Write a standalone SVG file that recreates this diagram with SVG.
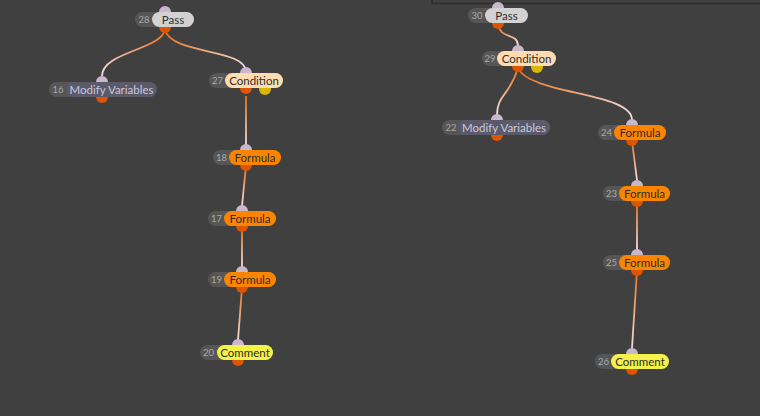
<svg xmlns="http://www.w3.org/2000/svg" width="760" height="416" viewBox="0 0 760 416">
<style>
.bg{fill:#404040}
.num{fill:#565656}
.nt{font-family:Lato,"Noto Sans",sans-serif;font-size:9.5px;fill:#a8a8a8;text-anchor:middle}
.lt{font-family:Lato,"Noto Sans",sans-serif;font-size:11.5px;fill:#2e2e2e;text-anchor:middle}
.pass{fill:#d2d2d2}
.mod{fill:#5b5a6b}
.cond{fill:#ffdcb0}
.form{fill:#fb8500}
.com{fill:#f4f148}
.pin{fill:#c9b7cc}
.pout{fill:#dd5500}
.py{fill:#d8b800}
.c{fill:none;stroke-width:1.8}
</style>
<defs>
<linearGradient id="g1" gradientUnits="userSpaceOnUse" x1="165" y1="30" x2="102" y2="76"><stop offset="0" stop-color="#e8701c"/><stop offset="1" stop-color="#f2dede"/></linearGradient>
<linearGradient id="g2" gradientUnits="userSpaceOnUse" x1="165" y1="30" x2="246" y2="72"><stop offset="0" stop-color="#e8701c"/><stop offset="1" stop-color="#f2dede"/></linearGradient>
<linearGradient id="g3" gradientUnits="userSpaceOnUse" x1="246" y1="96" x2="246" y2="145"><stop offset="0" stop-color="#e8701c"/><stop offset="1" stop-color="#f2dede"/></linearGradient>
<linearGradient id="g4" gradientUnits="userSpaceOnUse" x1="246" y1="166" x2="242" y2="206"><stop offset="0" stop-color="#e8701c"/><stop offset="1" stop-color="#f2dede"/></linearGradient>
<linearGradient id="g5" gradientUnits="userSpaceOnUse" x1="242" y1="227" x2="242" y2="267"><stop offset="0" stop-color="#e8701c"/><stop offset="1" stop-color="#f2dede"/></linearGradient>
<linearGradient id="g6" gradientUnits="userSpaceOnUse" x1="242" y1="288" x2="238" y2="340"><stop offset="0" stop-color="#e8701c"/><stop offset="1" stop-color="#f2dede"/></linearGradient>
<linearGradient id="g7" gradientUnits="userSpaceOnUse" x1="498" y1="24" x2="518" y2="46"><stop offset="0" stop-color="#e8701c"/><stop offset="1" stop-color="#f2dede"/></linearGradient>
<linearGradient id="g8" gradientUnits="userSpaceOnUse" x1="518" y1="68" x2="497" y2="115"><stop offset="0" stop-color="#e8701c"/><stop offset="1" stop-color="#f2dede"/></linearGradient>
<linearGradient id="g9" gradientUnits="userSpaceOnUse" x1="518" y1="68" x2="632" y2="120"><stop offset="0" stop-color="#e8701c"/><stop offset="1" stop-color="#f2dede"/></linearGradient>
<linearGradient id="g10" gradientUnits="userSpaceOnUse" x1="632" y1="141" x2="637" y2="180"><stop offset="0" stop-color="#e8701c"/><stop offset="1" stop-color="#f2dede"/></linearGradient>
<linearGradient id="g11" gradientUnits="userSpaceOnUse" x1="637" y1="202" x2="637" y2="250"><stop offset="0" stop-color="#e8701c"/><stop offset="1" stop-color="#f2dede"/></linearGradient>
<linearGradient id="g12" gradientUnits="userSpaceOnUse" x1="637" y1="271" x2="632" y2="348"><stop offset="0" stop-color="#e8701c"/><stop offset="1" stop-color="#f2dede"/></linearGradient>
</defs>
<rect class="bg" x="0" y="0" width="760" height="416"/>
<path d="M432,0 V3.5 H760" fill="none" stroke="#2c2c2c" stroke-width="1.5"/>
<g id="connectors">
<path class="c" stroke="url(#g1)" d="M165,30 C160,50 102,52 102,76"/>
<path class="c" stroke="url(#g2)" d="M165,30 C172,55 246,48 246,72"/>
<path class="c" stroke="url(#g3)" d="M246,96 L246,145"/>
<path class="c" stroke="url(#g4)" d="M246,166 L242,206"/>
<path class="c" stroke="url(#g5)" d="M242,227 L242,267"/>
<path class="c" stroke="url(#g6)" d="M242,288 L238,340"/>
<path class="c" stroke="url(#g7)" d="M498,24 C500,40 518,32 518,46"/>
<path class="c" stroke="url(#g8)" d="M518,68 C510,95 497,95 497,115"/>
<path class="c" stroke="url(#g9)" d="M518,68 C530,95 632,92 632,120"/>
<path class="c" stroke="url(#g10)" d="M632,141 L637,180"/>
<path class="c" stroke="url(#g11)" d="M637,202 L637,250"/>
<path class="c" stroke="url(#g12)" d="M637,271 L632,348"/>
</g>
<g id="n28">
<circle class="pin" cx="165" cy="12" r="6"/><circle class="pout" cx="165" cy="27" r="6"/>
<rect class="num" x="135" y="12" width="59" height="15" rx="7.5"/>
<rect class="pass" x="152" y="12" width="42" height="15" rx="7.5"/>
<text class="nt" x="144" y="23">28</text><text class="lt" x="173" y="23.5">Pass</text>
</g>
<g id="n16">
<circle class="pin" cx="102" cy="82" r="6"/><circle class="pout" cx="102" cy="97" r="6"/>
<rect class="num" x="49" y="82" width="108" height="15" rx="7.5"/>
<rect class="mod" x="66" y="82" width="91" height="15" rx="7.5"/>
<text class="nt" x="58" y="93">16</text><text class="lt" x="111.5" y="93.5" style="fill:#c9c8da">Modify Variables</text>
</g>
<g id="n27">
<circle class="pin" cx="246" cy="73" r="6"/><circle class="pout" cx="246" cy="88" r="6"/><circle class="py" cx="265" cy="89" r="6"/>
<rect class="num" x="209" y="73" width="74" height="15" rx="7.5"/>
<rect class="cond" x="225" y="73" width="58" height="15" rx="7.5"/>
<text class="nt" x="217.5" y="84">27</text><text class="lt" x="254" y="84.5">Condition</text>
</g>
<g id="n18">
<circle class="pin" cx="246" cy="150" r="6"/><circle class="pout" cx="246" cy="165" r="6"/>
<rect class="num" x="213" y="150" width="68" height="15" rx="7.5"/>
<rect class="form" x="229" y="150" width="52" height="15" rx="7.5"/>
<text class="nt" x="221.5" y="161">18</text><text class="lt" x="255" y="161.5">Formula</text>
</g>
<g id="n17">
<circle class="pin" cx="242" cy="211" r="6"/><circle class="pout" cx="242" cy="226" r="6"/>
<rect class="num" x="208" y="211" width="68" height="15" rx="7.5"/>
<rect class="form" x="224" y="211" width="52" height="15" rx="7.5"/>
<text class="nt" x="216.5" y="222">17</text><text class="lt" x="250" y="222.5">Formula</text>
</g>
<g id="n19">
<circle class="pin" cx="242" cy="272" r="6"/><circle class="pout" cx="242" cy="287" r="6"/>
<rect class="num" x="208" y="272" width="68" height="15" rx="7.5"/>
<rect class="form" x="224" y="272" width="52" height="15" rx="7.5"/>
<text class="nt" x="216.5" y="283">19</text><text class="lt" x="250" y="283.5">Formula</text>
</g>
<g id="n20">
<circle class="pin" cx="238" cy="345" r="6"/><circle class="pout" cx="238" cy="360" r="6"/>
<rect class="num" x="200" y="345" width="73" height="15" rx="7.5"/>
<rect class="com" x="217" y="345" width="56" height="15" rx="7.5"/>
<text class="nt" x="208.5" y="356">20</text><text class="lt" x="245" y="356.5">Comment</text>
</g>
<g id="n30">
<circle class="pin" cx="498" cy="8" r="6"/><circle class="pout" cx="498" cy="23" r="6"/>
<rect class="num" x="468" y="8" width="60" height="15" rx="7.5"/>
<rect class="pass" x="485" y="8" width="43" height="15" rx="7.5"/>
<text class="nt" x="477" y="19">30</text><text class="lt" x="506.5" y="19.5">Pass</text>
</g>
<g id="n29">
<circle class="pin" cx="518" cy="51" r="6"/><circle class="pout" cx="518" cy="66" r="6"/><circle class="py" cx="537" cy="67" r="6"/>
<rect class="num" x="482" y="51" width="74" height="15" rx="7.5"/>
<rect class="cond" x="497" y="51" width="59" height="15" rx="7.5"/>
<text class="nt" x="490" y="62">29</text><text class="lt" x="526.5" y="62.5">Condition</text>
</g>
<g id="n22">
<circle class="pin" cx="497" cy="120" r="6"/><circle class="pout" cx="497" cy="135" r="6"/>
<rect class="num" x="442" y="120" width="108" height="15" rx="7.5"/>
<rect class="mod" x="458" y="120" width="92" height="15" rx="7.5"/>
<text class="nt" x="451" y="131">22</text><text class="lt" x="504" y="131.5" style="fill:#c9c8da">Modify Variables</text>
</g>
<g id="n24">
<circle class="pin" cx="632" cy="125" r="6"/><circle class="pout" cx="632" cy="140" r="6"/>
<rect class="num" x="598" y="125" width="68" height="15" rx="7.5"/>
<rect class="form" x="614" y="125" width="52" height="15" rx="7.5"/>
<text class="nt" x="606.5" y="136">24</text><text class="lt" x="640" y="136.5">Formula</text>
</g>
<g id="n23">
<circle class="pin" cx="637" cy="186" r="6"/><circle class="pout" cx="637" cy="201" r="6"/>
<rect class="num" x="603" y="186" width="67" height="15" rx="7.5"/>
<rect class="form" x="619" y="186" width="51" height="15" rx="7.5"/>
<text class="nt" x="611.5" y="197">23</text><text class="lt" x="644.5" y="197.5">Formula</text>
</g>
<g id="n25">
<circle class="pin" cx="637" cy="255" r="6"/><circle class="pout" cx="637" cy="270" r="6"/>
<rect class="num" x="603" y="255" width="67" height="15" rx="7.5"/>
<rect class="form" x="619" y="255" width="51" height="15" rx="7.5"/>
<text class="nt" x="611.5" y="266">25</text><text class="lt" x="644.5" y="266.5">Formula</text>
</g>
<g id="n26">
<circle class="pin" cx="632" cy="354" r="6"/><circle class="pout" cx="632" cy="369" r="6"/>
<rect class="num" x="595" y="354" width="74" height="15" rx="7.5"/>
<rect class="com" x="611" y="354" width="58" height="15" rx="7.5"/>
<text class="nt" x="603.5" y="365">26</text><text class="lt" x="640" y="365.5">Comment</text>
</g>
</svg>
